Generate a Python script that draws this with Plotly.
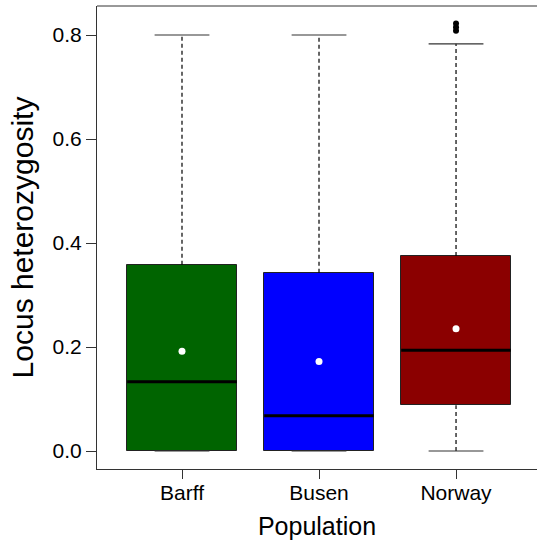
import plotly.graph_objects as go

# Summary statistics of locus heterozygosity per population
populations = ["Barff", "Busen", "Norway"]
q1 = [0.0, 0.0, 0.088]
medians = [0.133, 0.068, 0.194]
q3 = [0.358, 0.343, 0.375]
whisker_low = [0.0, 0.0, 0.0]
whisker_high = [0.8, 0.8, 0.783]
means = [0.192, 0.172, 0.235]
outliers = {"Norway": [0.808, 0.815, 0.822]}
box_colors = ["#006400", "#0000FF", "#8B0000"]

positions = [1, 2, 3]
box_w = 0.8
cap_w = 0.4

fig = go.Figure()

# Dashed whiskers (drawn first so the boxes sit on top)
for x, lo, hi, a, b in zip(positions, whisker_low, whisker_high, q1, q3):
    fig.add_trace(go.Scatter(x=[x, x, None, x, x], y=[b, hi, None, lo, a],
                             mode="lines", line=dict(color="black", width=1.2, dash="4px,3px"),
                             hoverinfo="skip", showlegend=False))
    # whisker caps
    fig.add_trace(go.Scatter(x=[x - cap_w / 2, x + cap_w / 2, None, x - cap_w / 2, x + cap_w / 2],
                             y=[hi, hi, None, lo, lo],
                             mode="lines", line=dict(color="#333333", width=1.2),
                             hoverinfo="skip", showlegend=False))

# Boxes from Q1 to Q3
fig.add_trace(go.Bar(x=positions, base=q1, y=[b - a for a, b in zip(q1, q3)],
                     width=box_w, marker=dict(color=box_colors, line=dict(color="#222222", width=1)),
                     hoverinfo="skip", showlegend=False))

# Median lines
for x, m in zip(positions, medians):
    fig.add_trace(go.Scatter(x=[x - box_w / 2, x + box_w / 2], y=[m, m], mode="lines",
                             line=dict(color="black", width=3), hoverinfo="skip", showlegend=False))

# Means as white dots
fig.add_trace(go.Scatter(x=positions, y=means, mode="markers",
                         marker=dict(color="white", size=7, line=dict(width=0)),
                         hoverinfo="skip", showlegend=False))

# Outliers
for name, vals in outliers.items():
    x = positions[populations.index(name)]
    fig.add_trace(go.Scatter(x=[x] * len(vals), y=vals, mode="markers",
                             marker=dict(color="black", size=6),
                             hoverinfo="skip", showlegend=False))

font_family = "Liberation Sans, Arial, sans-serif"

fig.update_layout(
    width=537, height=544,
    margin=dict(l=97, r=0, t=6, b=75),
    plot_bgcolor="white", paper_bgcolor="white",
    font=dict(family=font_family, color="black"),
    bargap=0,
    xaxis=dict(range=[0.3796, 3.591], tickmode="array", tickvals=positions, ticktext=populations,
               showgrid=False, zeroline=False, showline=True, linecolor="#333333", linewidth=1,
               ticks="outside", ticklen=9, tickcolor="#333333", tickwidth=1,
               ticklabelstandoff=-4,
               tickfont=dict(size=21, color="black"),
               title=dict(text="Population", font=dict(size=25, color="black"), standoff=14)),
    yaxis=dict(range=[-0.0346, 0.8558], tickmode="array", tickvals=[0, 0.2, 0.4, 0.6, 0.8],
               ticktext=["0.0", "0.2", "0.4", "0.6", "0.8"],
               showgrid=False, zeroline=False, showline=True, linecolor="#333333", linewidth=1,
               ticks="outside", ticklen=10, tickcolor="#333333", tickwidth=1,
               tickfont=dict(size=21, color="black"),
               title=dict(text="Locus heterozygosity", font=dict(size=30, color="black"), standoff=10)),
    shapes=[dict(type="line", xref="paper", yref="paper", x0=0, x1=1, y0=1, y1=1,
                 line=dict(color="#333333", width=1))],
)

fig.write_html("out.html")
